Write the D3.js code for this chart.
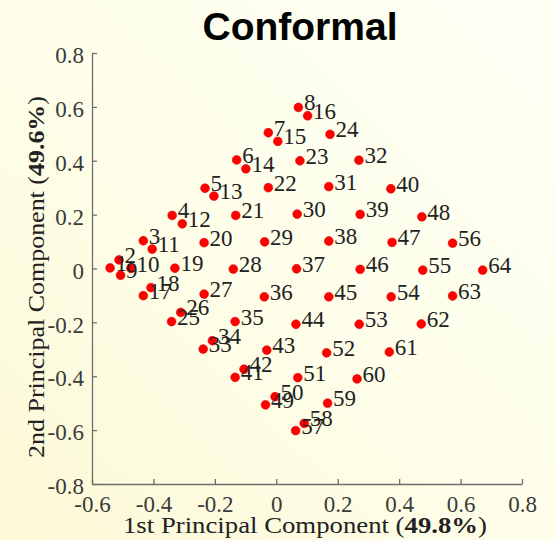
<!DOCTYPE html>
<html>
<head>
<meta charset="utf-8">
<script src="https://cdn.jsdelivr.net/npm/d3@7"></script>
<style>
  html, body { margin: 0; padding: 0; }
  body { width: 556px; height: 540px; overflow: hidden; }
</style>
</head>
<body>
<svg id="chart" width="556" height="540"></svg>
<script>
// ---- data ----
const pointLabels = ["1","2","3","4","5","6","7","8","9","10","11","12","13","14","15","16",
  "17","18","19","20","21","22","23","24","25","26","27","28","29","30","31","32",
  "33","34","35","36","37","38","39","40","41","42","43","44","45","46","47","48",
  "49","50","51","52","53","54","55","56","57","58","59","60","61","62","63","64"];
const pcX = [-0.541,-0.512,-0.433,-0.339,-0.232,-0.129,-0.026,0.072,
  -0.507,-0.473,-0.404,-0.306,-0.203,-0.099,0.005,0.102,
  -0.433,-0.408,-0.330,-0.235,-0.132,-0.026,0.077,0.175,
  -0.341,-0.311,-0.235,-0.140,-0.038,0.068,0.171,0.269,
  -0.238,-0.208,-0.134,-0.039,0.066,0.171,0.273,0.373,
  -0.134,-0.105,-0.031,0.064,0.171,0.273,0.377,0.474,
  -0.035,-0.004,0.070,0.164,0.270,0.374,0.477,0.574,
  0.063,0.091,0.167,0.263,0.368,0.472,0.574,0.672];
const pcY = [0.002,0.032,0.103,0.197,0.298,0.403,0.504,0.598,
  -0.025,0.000,0.072,0.166,0.269,0.370,0.472,0.567,
  -0.101,-0.071,0.001,0.096,0.197,0.300,0.400,0.498,
  -0.197,-0.163,-0.095,-0.002,0.099,0.202,0.304,0.402,
  -0.299,-0.268,-0.197,-0.105,-0.001,0.102,0.201,0.296,
  -0.404,-0.374,-0.303,-0.207,-0.105,-0.003,0.097,0.192,
  -0.506,-0.476,-0.405,-0.313,-0.207,-0.105,-0.006,0.094,
  -0.602,-0.575,-0.500,-0.410,-0.310,-0.206,-0.102,-0.006];
const xTicks = [-0.6,-0.4,-0.2,0,0.2,0.4,0.6,0.8];
const yTicks = [-0.8,-0.6,-0.4,-0.2,0,0.2,0.4,0.6,0.8];
const titleText = "Conformal";
const xLabelPlain = "1st Principal Component (";
const xLabelBold = "49.8%";
const yLabelPlain = "2nd Principal Component (";
const yLabelBold = "49.6%";

// ---- drawing ----
const svg = d3.select("#chart");
const defs = svg.append("defs");
const grad = defs.append("linearGradient").attr("id","bg")
  .attr("x1","1").attr("y1","0").attr("x2","0").attr("y2","1");
grad.append("stop").attr("offset","0").attr("stop-color","#fffff5");
grad.append("stop").attr("offset","0.5").attr("stop-color","#fefeea");
grad.append("stop").attr("offset","1").attr("stop-color","#fcf9d6");
svg.append("rect").attr("width",556).attr("height",540).attr("fill","url(#bg)");

const x = d3.scaleLinear().domain([-0.6, 0.8]).range([92, 522]);
const y = d3.scaleLinear().domain([-0.8, 0.8]).range([484, 53]);

const serif = "'Liberation Serif', 'Times New Roman', serif";
const fmt = d => (d === 0 ? "0" : String(d));

const gx = svg.append("g").attr("transform", "translate(0,484)")
  .call(d3.axisBottom(x).tickValues(xTicks).tickFormat(fmt)
        .tickSizeInner(-5).tickSizeOuter(0).tickPadding(11));
const gy = svg.append("g").attr("transform", "translate(92,0)")
  .call(d3.axisLeft(y).tickValues(yTicks).tickFormat(fmt)
        .tickSizeInner(-5).tickSizeOuter(0).tickPadding(8));

[gx, gy].forEach(g => {
  g.select(".domain").attr("stroke", "#6e6e6e").attr("stroke-width", 1.3);
  g.selectAll(".tick line").attr("stroke", "#6e6e6e").attr("stroke-width", 1.3);
  g.selectAll(".tick text").attr("fill", "#3a3a3a")
    .style("font-family", serif).style("font-size", "23px");
});
gy.selectAll(".tick text").attr("dy", "0.42em");
gx.selectAll(".tick text").attr("dy", "0.72em");

// points
svg.append("g").selectAll("circle")
  .data(pointLabels)
  .join("circle")
  .attr("cx", (d, i) => x(pcX[i]))
  .attr("cy", (d, i) => y(pcY[i]))
  .attr("r", 4.4)
  .attr("fill", "#ff0000")
  .attr("stroke", "#e00000")
  .attr("stroke-width", 0.6);

// labels
svg.append("g").selectAll("text")
  .data(pointLabels)
  .join("text")
  .attr("x", (d, i) => x(pcX[i]) + 5.5)
  .attr("y", (d, i) => y(pcY[i]) + 3)
  .attr("fill", "#222")
  .style("font-family", serif)
  .style("font-size", "23px")
  .text(d => d);

// title
svg.append("text")
  .attr("x", 300).attr("y", 40)
  .attr("text-anchor", "middle")
  .style("font-family", "'Liberation Sans', Arial, sans-serif")
  .style("font-weight", "bold")
  .style("font-size", "39px")
  .attr("fill", "#000")
  .text(titleText);

// x label
const xl = svg.append("text")
  .attr("x", 305).attr("y", 533)
  .attr("text-anchor", "middle")
  .attr("fill", "#222")
  .style("font-family", serif)
  .style("font-size", "24px")
  .attr("textLength", 364)
  .attr("lengthAdjust", "spacingAndGlyphs");
xl.append("tspan").text(xLabelPlain);
xl.append("tspan").style("font-weight", "bold").text(xLabelBold);
xl.append("tspan").text(")");

// y label
const yl = svg.append("text")
  .attr("transform", "translate(44,277) rotate(-90)")
  .attr("text-anchor", "middle")
  .attr("fill", "#222")
  .style("font-family", serif)
  .style("font-size", "24px")
  .attr("textLength", 362)
  .attr("lengthAdjust", "spacingAndGlyphs");
yl.append("tspan").text(yLabelPlain);
yl.append("tspan").style("font-weight", "bold").text(yLabelBold);
yl.append("tspan").text(")");
</script>
</body>
</html>
